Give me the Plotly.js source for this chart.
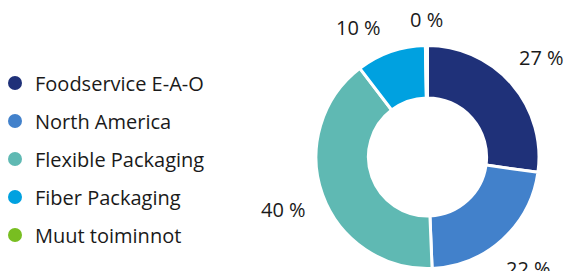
<!DOCTYPE html>
<html>
<head>
<meta charset="utf-8">
<script src="https://cdn.plot.ly/plotly-3.0.1.min.js"></script>
<style>html,body{margin:0;padding:0;background:#fff;}#chart{width:575px;height:271px;}</style>
</head>
<body>
<div id="chart"></div>
<script>
const categories = ["Foodservice E-A-O", "North America", "Flexible Packaging", "Fiber Packaging", "Muut toiminnot"];
const shares = [27, 22, 40, 10, 0.3];
const shareLabels = ["27 %", "22 %", "40 %", "10 %", "0 %"];
const colors = ["#1f3179", "#4281cb", "#5fb9b3", "#00a1e0", "#78be21"];

const FONT = "'Open Sans', sans-serif";
const W = 575, H = 271;
const LABEL_SIZE = 20;
const pieDomain = {x: [316/W, 539/W], y: [2.5/H, 225.5/H]};

const pie = {
  type: "pie",
  values: shares,
  labels: categories,
  textinfo: "none",
  sort: false,
  direction: "clockwise",
  rotation: 0,
  hole: 0.53,
  marker: {colors: colors, line: {color: "#ffffff", width: 3}},
  showlegend: false,
  domain: pieDomain,
  hoverinfo: "label+percent"
};

// Data labels placed outside each slice along its mid-angle (derived from shares)
const cxPx = (pieDomain.x[0] + pieDomain.x[1]) / 2 * W;
const cyPx = (1 - (pieDomain.y[0] + pieDomain.y[1]) / 2) * H;
const total = shares.reduce((a, b) => a + b, 0);
const gapR = 130, labelGap = 28;
function textWidth(s) {
  let w = 0;
  for (const ch of s) w += ch === " " ? 0.26 : ch === "%" ? 0.842 : 0.572;
  return w * LABEL_SIZE;
}
function place(angle, label) {
  const ux = Math.sin(angle), uy = -Math.cos(angle);
  const hw = textWidth(label) / 2, hh = 0.36 * LABEL_SIZE;
  const r = gapR + hw * Math.abs(ux) + hh * Math.abs(uy);
  return {x: cxPx + r * ux, y: cyPx + r * uy, hw: hw, hh: hh};
}
function overlaps(a, b) {
  return Math.abs(a.x - b.x) < a.hw + b.hw + labelGap &&
         Math.abs(a.y - b.y) < a.hh + b.hh + labelGap;
}
let cum = 0;
const angles = shares.map(v => { const a = (cum + v / 2) / total * 2 * Math.PI; cum += v; return a; });
const boxes = angles.map((a, i) => place(a, shareLabels[i]));
for (let i = shares.length - 2; i >= 0; i--) {
  let guard = 0;
  while (overlaps(boxes[i], boxes[i + 1]) && guard++ < 90) {
    angles[i] -= Math.PI / 360;
    boxes[i] = place(angles[i], shareLabels[i]);
  }
}
const annotations = boxes.map((b, i) => ({
  xref: "paper", yref: "paper",
  x: b.x / W, y: 1 - b.y / H,
  xanchor: "center", yanchor: "middle",
  text: shareLabels[i], showarrow: false,
  font: {family: FONT, size: LABEL_SIZE, color: "#1a1a1a"}
}));

const legendTraces = categories.map((c, i) => ({
  type: "scatter",
  mode: "markers",
  x: [null], y: [null],
  name: c,
  legendgroup: "g" + i,
  marker: {color: colors[i], size: 14, symbol: "circle"},
  showlegend: true,
  hoverinfo: "skip"
}));

const layout = {
  width: W, height: H,
  margin: {l: 0, r: 0, t: 0, b: 0},
  paper_bgcolor: "#ffffff",
  plot_bgcolor: "#ffffff",
  showlegend: true,
  legend: {
    x: 0, xanchor: "left",
    y: (H - 159)/H, yanchor: "middle",
    indentation: -5,
    font: {family: FONT, size: 20, color: "#1a1a1a"},
    tracegroupgap: 9,
    bgcolor: "rgba(0,0,0,0)",
    itemclick: false
  },
  annotations: annotations,
  xaxis: {visible: false, domain: [0, 0.01]},
  yaxis: {visible: false}
};

Plotly.newPlot("chart", [pie].concat(legendTraces), layout, {displayModeBar: false, staticPlot: true});
</script>
</body>
</html>
